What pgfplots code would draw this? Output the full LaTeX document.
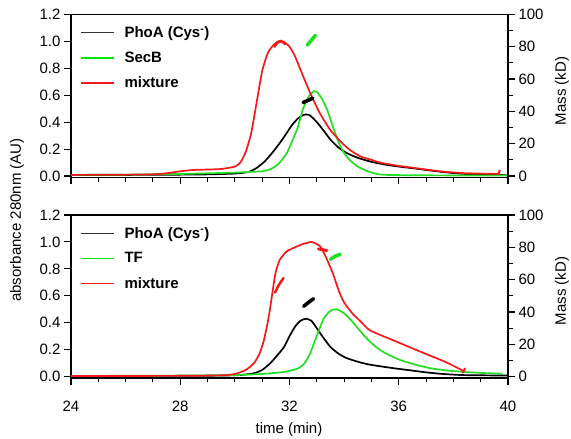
\documentclass[border=0pt]{standalone}
\usepackage{pgfplots}
\pgfplotsset{compat=1.18}
\usepackage{fontspec}
\setmainfont{Liberation Sans}
\definecolor{cred}{RGB}{245,25,25}
\definecolor{cgreen}{RGB}{35,222,35}
\definecolor{lgreen}{RGB}{0,235,0}
\pgfplotsset{
 base/.style={
  scale only axis, width=437pt, height=163pt,
  xmin=24, xmax=40,
  tick align=outside,
  major tick length=7pt, minor tick length=4.5pt,
  every tick/.style={black, line width=1.1pt},
  axis line style={line width=1.6pt},
  /pgf/number format/assume math mode=true,
  tick label style={font=\fontsize{15}{18}\selectfont},
 },
 leftax/.style={base,
  ymin=-0.01, ymax=1.2,
  xtick={24,28,32,36,40}, minor x tick num=3,
  ytick={0,0.2,0.4,0.6,0.8,1.0,1.2},
  xtick pos=left, ytick pos=left,
  yticklabel style={/pgf/number format/.cd, fixed, fixed zerofill, precision=1},
  legend style={at={(rel axis cs:0,1)}, anchor=north west, draw=none, fill=none,
    xshift=6pt, yshift=-8pt, row sep=9pt,
    font=\bfseries\fontsize{15}{18}\selectfont,
    /tikz/every odd column/.append style={column sep=8pt}},
  legend cell align=left,
  legend image code/.code={\draw[#1] (0pt,0pt) -- (33pt,0pt);},
 },
 rightax/.style={base,
  axis x line=none, axis y line*=right,
  ymin=-0.8333, ymax=100,
  ytick={0,20,40,60,80,100}, minor y tick num=1,
 },
 curve/.style={line width=1.7pt, no marks, smooth, tension=0.35, forget plot},
 massm/.style={line width=3.6pt, line cap=round, no marks, forget plot},
}
\begin{document}
\begin{tikzpicture}
\useasboundingbox (0,0) rectangle (571pt,439pt);
% ---------------- top panel ----------------
\begin{axis}[leftax, at={(71pt,261.65pt)}, anchor=south west, xticklabels={}]
\addlegendimage{black!80, line width=1.3pt}
\addlegendentry{PhoA (Cys\textsuperscript{-})}
\addlegendimage{lgreen, line width=1.3pt}
\addlegendentry{SecB}
\addlegendimage{cred, line width=1.3pt}
\addlegendentry{mixture}
\addplot[curve, black] table {
24 0.008
26 0.008
28 0.01
29 0.012
30 0.018
30.5 0.03
30.8 0.06
31.1 0.11
31.4 0.18
31.7 0.26
31.9 0.32
32.1 0.38
32.3 0.425
32.5 0.452
32.6 0.457
32.75 0.45
33.0 0.40
33.2 0.35
33.5 0.27
33.8 0.21
34.1 0.17
34.5 0.135
35.0 0.105
35.5 0.085
36.0 0.07
36.5 0.058
37.0 0.045
37.6 0.03
38.2 0.018
39.0 0.01
40 0.006
};
\addplot[curve, cgreen] table {
24 0.008
26 0.01
28 0.015
29 0.02
30 0.025
30.5 0.03
31.0 0.035
31.3 0.05
31.6 0.09
31.9 0.17
32.1 0.26
32.3 0.36
32.5 0.50
32.7 0.59
32.9 0.63
33.0 0.625
33.2 0.57
33.4 0.48
33.6 0.36
33.8 0.25
34.0 0.17
34.2 0.12
34.5 0.07
34.8 0.04
35.2 0.015
35.6 0.008
37 0.005
40 0.003
};
\addplot[curve, cred] table {
24 0.008
26 0.01
27 0.012
27.5 0.02
28 0.035
28.5 0.045
29 0.048
29.5 0.052
30.0 0.07
30.2 0.1
30.4 0.18
30.6 0.32
30.8 0.55
31.0 0.78
31.2 0.91
31.4 0.97
31.6 1.0
31.8 0.995
32.0 0.96
32.2 0.89
32.4 0.79
32.75 0.62
33.1 0.47
33.5 0.34
33.9 0.25
34.2 0.195
34.6 0.145
35.0 0.12
35.3 0.10
36.0 0.075
36.5 0.062
37.0 0.048
37.6 0.033
38.3 0.022
39.0 0.018
39.7 0.015
};
\end{axis}
\begin{axis}[rightax, at={(71pt,261.65pt)}, anchor=south west]
\addplot[massm, black] table {
32.5 45.5
32.65 46.5
32.85 48.2
};
\addplot[massm, cgreen] table {
32.65 81
32.8 84
32.95 87
};
\addplot[massm, cred, line width=2.5pt] table {
31.45 80
31.55 82.5
31.7 83.5
31.85 81.5
};
\addplot[massm, cred, line width=2pt] table {
39.65 1.5
39.7 3.5
};
\end{axis}
% ---------------- bottom panel ----------------
\begin{axis}[leftax, at={(71pt,61pt)}, anchor=south west,
  xticklabel style={yshift=-12pt}]
\addlegendimage{black!80, line width=1.3pt}
\addlegendentry{PhoA (Cys\textsuperscript{-})}
\addlegendimage{lgreen, line width=1.3pt}
\addlegendentry{TF}
\addlegendimage{cred, line width=1.3pt}
\addlegendentry{mixture}
\addplot[curve, black] table {
24 0.005
28 0.006
29.5 0.008
30.2 0.012
30.7 0.025
31.0 0.05
31.3 0.10
31.6 0.17
31.8 0.22
32.0 0.30
32.2 0.37
32.4 0.415
32.6 0.43
32.8 0.415
33.0 0.36
33.2 0.30
33.5 0.22
33.8 0.17
34.1 0.137
34.6 0.105
35.0 0.087
35.8 0.063
36.5 0.045
37.0 0.032
37.6 0.02
38.3 0.012
39 0.01
40 0.008
};
\addplot[curve, cgreen] table {
24 0.005
28 0.008
30 0.012
31 0.02
31.8 0.035
32.3 0.06
32.55 0.10
32.75 0.17
32.9 0.25
33.05 0.33
33.25 0.43
33.5 0.49
33.73 0.50
34.0 0.47
34.25 0.42
34.5 0.36
34.75 0.30
35.0 0.25
35.3 0.20
35.7 0.155
36.1 0.12
36.6 0.09
37.15 0.063
37.8 0.045
38.4 0.035
39.1 0.027
39.8 0.022
};
\addplot[curve, cred] table {
24 0.005
28 0.006
29.5 0.01
30.0 0.02
30.4 0.05
30.7 0.10
30.9 0.17
31.05 0.26
31.2 0.40
31.3 0.52
31.4 0.66
31.5 0.78
31.65 0.87
31.9 0.93
32.2 0.96
32.5 0.985
32.8 1.0
33.0 0.985
33.15 0.96
33.35 0.88
33.6 0.76
33.8 0.64
34.0 0.55
34.3 0.47
34.6 0.41
34.9 0.35
35.2 0.32
35.8 0.27
36.5 0.21
37.1 0.16
37.7 0.11
38.25 0.055
38.4 0.04
};
\end{axis}
\begin{axis}[rightax, at={(71pt,61pt)}, anchor=south west]
\addplot[massm, cred, line width=2.5pt] table {
31.47 52
31.6 56.5
31.78 61
};
\addplot[massm, cred, line width=3pt] table {
33.06 79
33.2 78.6
33.37 78
};
\addplot[massm, cgreen] table {
33.5 72.6
33.65 74.3
33.85 75.7
};
\addplot[massm, black] table {
32.52 43.5
32.7 46
32.88 48.2
};
\addplot[massm, cred, line width=2pt] table {
38.35 2.5
38.42 5
};
\end{axis}
% ---------------- labels ----------------
\node[rotate=90, font=\fontsize{15}{18}\selectfont] at (17pt,219pt) {absorbance 280nm (AU)};
\node[rotate=90, font=\fontsize{15}{18}\selectfont] at (562pt,348pt) {Mass (kD)};
\node[rotate=90, font=\fontsize{15}{18}\selectfont] at (562pt,148pt) {Mass (kD)};
\node[font=\fontsize{15}{18}\selectfont] at (289pt,9pt) {time (min)};
\end{tikzpicture}
\end{document}
